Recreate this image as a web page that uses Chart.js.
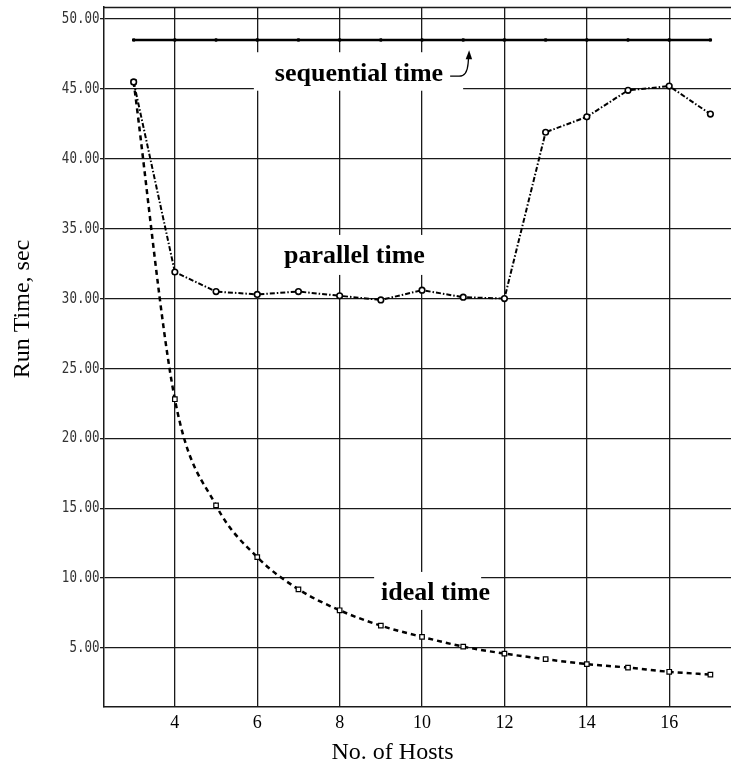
<!DOCTYPE html>
<html>
<head>
<meta charset="utf-8">
<script src="https://cdn.jsdelivr.net/npm/chart.js@4/dist/chart.umd.min.js"></script>
<style>
  html, body { margin: 0; padding: 0; background: #fff; }
  #c { display: block; }
</style>
</head>
<body>
<canvas id="c" width="731" height="764"></canvas>
<script>
// ---- data ----
const hosts = [3, 4, 5, 6, 7, 8, 9, 10, 11, 12, 13, 14, 15, 16, 17];
const sequentialTime = [48.5, 48.5, 48.5, 48.5, 48.5, 48.5, 48.5, 48.5, 48.5, 48.5, 48.5, 48.5, 48.5, 48.5, 48.5];
const parallelTime = [45.5, 31.9, 30.5, 30.3, 30.5, 30.2, 29.9, 30.6, 30.1, 30.0, 41.9, 43.0, 44.9, 45.2, 43.2];
const idealTime = [45.5, 22.8, 15.2, 11.5, 9.2, 7.7, 6.6, 5.8, 5.1, 4.6, 4.2, 3.85, 3.6, 3.3, 3.1];
const xTicks = [4, 6, 8, 10, 12, 14, 16];
const yTicks = [5, 10, 15, 20, 25, 30, 35, 40, 45, 50];
const xTitle = 'No. of Hosts';
const yTitle = 'Run Time, sec';
const seriesLabels = ['sequential time', 'parallel time', 'ideal time'];
// label anchors (data units: centre x, baseline y)
const labelX = [8.47, 8.36, 10.33];
const labelY = [45.55, 32.55, 8.44];

const toXY = (ys) => hosts.map((h, i) => ({ x: h, y: ys[i] }));

const annotPlugin = {
  id: 'annot',
  beforeDatasetsDraw(chart) {
    const { ctx, chartArea, scales } = chart;
    const xs = scales.x, ys = scales.y;
    ctx.save();
    // top frame line
    ctx.strokeStyle = '#1a1a1a';
    ctx.lineWidth = 1.5;
    ctx.beginPath();
    ctx.moveTo(chartArea.left, chartArea.top + 0.5);
    ctx.lineTo(chartArea.right, chartArea.top + 0.5);
    ctx.stroke();

    ctx.font = 'bold 26px "Liberation Serif", "Times New Roman", serif';
    ctx.textAlign = 'center';
    ctx.textBaseline = 'alphabetic';
    const boxPad = [
      { l: 21, r: 20, t: 29, b: 9.5 },
      { l: 16, r: 14, t: 28, b: 12 },
      { l: 7, r: -9, t: 28, b: 10 }
    ];
    seriesLabels.forEach((txt, i) => {
      const cx = xs.getPixelForValue(labelX[i]);
      const by = ys.getPixelForValue(labelY[i]);
      const w = ctx.measureText(txt).width;
      const p = boxPad[i];
      ctx.fillStyle = '#fff';
      ctx.fillRect(cx - w / 2 - p.l, by - p.t, w + p.l + p.r, p.t + p.b);
      ctx.fillStyle = '#000';
      ctx.fillText(txt, cx, by);
      if (i === 0) {
        const tr = cx + w / 2, b = by;
        ctx.strokeStyle = '#000';
        ctx.lineWidth = 1.3;
        ctx.beginPath();
        ctx.moveTo(tr + 7, b - 5);
        ctx.lineTo(tr + 16, b - 5);
        ctx.quadraticCurveTo(tr + 24, b - 5, tr + 25, b - 18);
        ctx.lineTo(tr + 25.5, b - 25);
        ctx.stroke();
        ctx.fillStyle = '#000';
        ctx.beginPath();
        ctx.moveTo(tr + 26, b - 31);
        ctx.lineTo(tr + 22.5, b - 22);
        ctx.lineTo(tr + 29, b - 22);
        ctx.closePath();
        ctx.fill();
      }
    });
    ctx.restore();
  },
  afterDraw(chart) {
    const { ctx, scales } = chart;
    const ys = scales.y;
    ctx.save();
    // y tick labels: narrow, tall monospace look
    ctx.fillStyle = '#333';
    ctx.font = '12.5px "DejaVu Sans Mono", monospace';
    ctx.textAlign = 'right';
    ctx.textBaseline = 'middle';
    ys.ticks.forEach((t) => {
      const py = ys.getPixelForValue(t.value);
      ctx.save();
      ctx.translate(ys.right - 4.5, py);
      ctx.scale(1, 1.25);
      ctx.fillText(Number(t.value).toFixed(2), 0, 0);
      ctx.restore();
    });
    // axis titles
    ctx.fillStyle = '#000';
    ctx.font = '24px "Liberation Serif", "Times New Roman", serif';
    ctx.textAlign = 'center';
    ctx.textBaseline = 'alphabetic';
    ctx.fillText(xTitle, 392.5, 759);
    ctx.translate(29, 309);
    ctx.rotate(-Math.PI / 2);
    ctx.fillText(yTitle, 0, 0);
    ctx.restore();
  }
};

new Chart(document.getElementById('c'), {
  type: 'line',
  data: {
    datasets: [
      {
        label: seriesLabels[0],
        data: toXY(sequentialTime),
        borderColor: '#000',
        borderWidth: 2.5,
        pointStyle: 'rect',
        pointRadius: 1.6,
        pointBackgroundColor: '#000',
        pointBorderColor: '#000',
        pointBorderWidth: 1,
        tension: 0
      },
      {
        label: seriesLabels[1],
        data: toXY(parallelTime),
        borderColor: '#000',
        borderWidth: 2,
        borderDash: [5, 2, 1.5, 2],
        pointStyle: 'circle',
        pointRadius: 2.8,
        pointBackgroundColor: '#fff',
        pointBorderColor: '#000',
        pointBorderWidth: 1.6,
        tension: 0
      },
      {
        label: seriesLabels[2],
        data: toXY(idealTime),
        borderColor: '#000',
        borderWidth: 2.5,
        borderDash: [5, 4],
        pointStyle: 'rect',
        pointRadius: 3.2,
        pointBackgroundColor: '#fff',
        pointBorderColor: '#000',
        pointBorderWidth: 1.2,
        cubicInterpolationMode: 'monotone'
      }
    ]
  },
  options: {
    responsive: false,
    animation: false,
    events: [],
    layout: { autoPadding: false, padding: { left: 0, right: 0, top: 7, bottom: 0 } },
    plugins: { legend: { display: false }, tooltip: { enabled: false } },
    scales: {
      x: {
        type: 'linear',
        min: 2.28,
        max: 17.5,
        afterBuildTicks: (s) => { s.ticks = xTicks.map(v => ({ value: v })); },
        afterFit: (s) => { s.height = 57; s.paddingLeft = 0; s.paddingRight = 0; },
        grid: { color: '#1a1a1a', lineWidth: 1.3, drawTicks: false },
        border: { display: true, color: '#1a1a1a', width: 1.5 },
        ticks: {
          color: '#000',
          padding: 5,
          maxRotation: 0,
          font: { family: '"Liberation Serif", "Times New Roman", serif', size: 18 }
        }
      },
      y: {
        type: 'linear',
        min: 0.78,
        max: 50.86,
        afterBuildTicks: (s) => { s.ticks = yTicks.map(v => ({ value: v })); },
        afterFit: (s) => { s.width = 104; s.paddingTop = 0; s.paddingBottom = 0; },
        grid: { color: '#1a1a1a', lineWidth: 1.3, drawTicks: true, tickLength: 4 },
        border: { display: true, color: '#1a1a1a', width: 1.5 },
        ticks: { display: false }
      }
    }
  },
  plugins: [annotPlugin]
});
</script>
</body>
</html>
